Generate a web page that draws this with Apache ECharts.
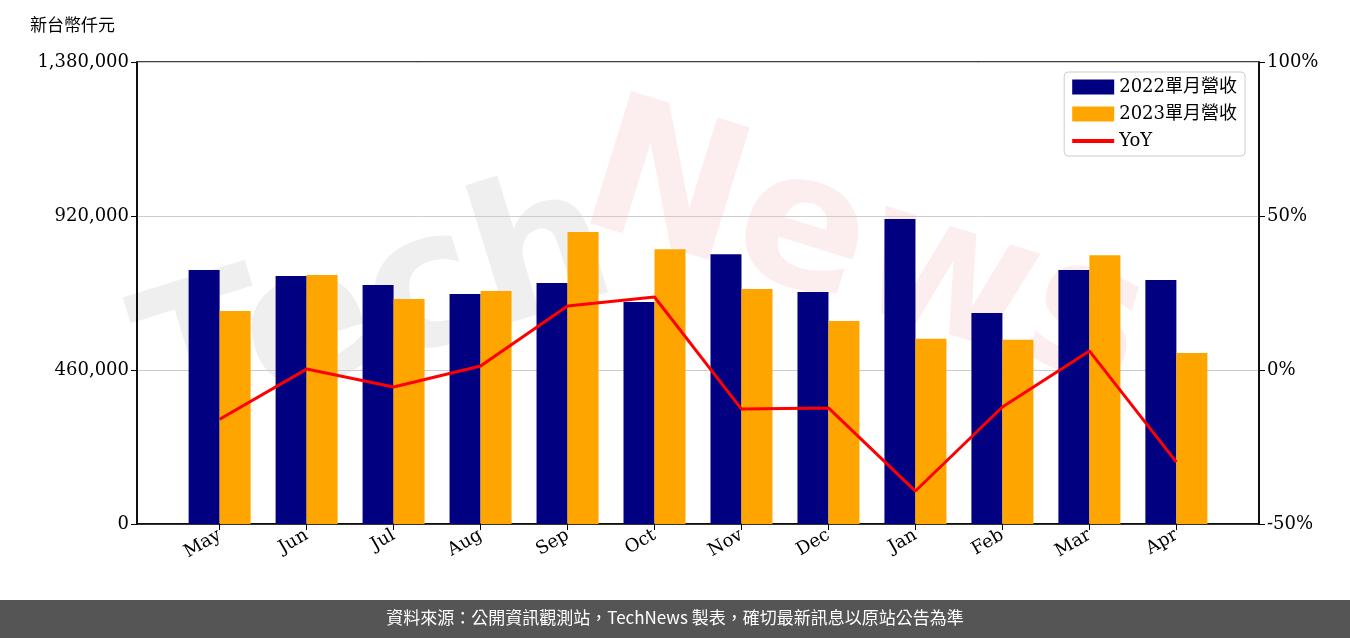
<!DOCTYPE html><html><head><meta charset="utf-8"><script src="https://cdn.jsdelivr.net/npm/echarts@6/dist/echarts.min.js"></script>
<style>body{margin:0}#c{width:1350px;height:638px}</style></head><body><div id="c"></div><script>
const months=['May','Jun','Jul','Aug','Sep','Oct','Nov','Dec','Jan','Feb','Mar','Apr'];
const rev2022=[758700,741000,714000,687000,720000,663000,806000,693000,911000,630000,759000,729000];
const rev2023=[636000,744000,672000,696000,872000,821000,702000,606000,553000,550000,803000,511000];
const yoy=[-16,0.3,-5.5,1.3,20.8,23.7,-12.7,-12.3,-39.3,-12,6.2,-29.9];
const f='DejaVu Serif';
const idx=months.map((m,i)=>i);
const ch=echarts.init(document.getElementById('c'));
ch.setOption({animation:false,
graphic:[
{type:'text',left:120,top:150,rotation:0.3,style:{text:'Tech',font:'bold 190px DejaVu Sans',fill:'rgba(190,190,190,0.25)'},z:-1},
{type:'text',left:560,top:80,rotation:-0.3,style:{text:'News',font:'bold 190px DejaVu Sans',fill:'rgba(230,120,120,0.13)'},z:-1},
{type:'rect',left:0,top:600,shape:{width:1350,height:38},style:{fill:'#555'}},
{type:'text',left:'center',top:609,style:{text:'資料來源：公開資訊觀測站，TechNews 製表，確切最新訊息以原站公告為準',font:'17px "Noto Sans CJK TC"',fill:'#fff'}},
{type:'text',left:30,top:16,style:{text:'新台幣仟元',font:'17px "Noto Sans CJK TC"',fill:'#000'}}],
grid:{left:137,right:91,top:62,bottom:114,show:true,borderColor:'#000',borderWidth:1.5},
legend:{right:105,top:72,orient:'vertical',itemGap:9,itemWidth:42,itemHeight:15,borderColor:'#ccc',borderWidth:1,borderRadius:4,padding:[6,8],
 textStyle:{fontFamily:'DejaVu Serif, Noto Sans CJK TC',fontSize:18,color:'#000'},
 data:[{name:'2022單月營收',icon:'rect'},{name:'2023單月營收',icon:'rect'},{name:'YoY',icon:'path://M0,0H10V1H0Z'}]},
xAxis:{type:'value',min:-0.95,max:11.95,splitLine:{show:false},axisLine:{onZero:false,lineStyle:{color:'#000',width:1.5}},
 axisTick:{show:true,length:6,lineStyle:{color:'#000'},customValues:idx},
 axisLabel:{rotate:30,fontFamily:f,fontSize:18,color:'#000',margin:10,customValues:idx,formatter:v=>months[Math.round(v)]}},
yAxis:[{type:'value',min:0,max:1380000,interval:460000,axisLine:{show:true,onZero:false,lineStyle:{color:'#000',width:1.5}},axisTick:{show:true,length:6},
 splitLine:{lineStyle:{color:'#ccc'}},axisLabel:{fontFamily:f,fontSize:18,color:'#000',formatter:v=>v.toLocaleString('en-US')}},
 {type:'value',min:-50,max:100,interval:50,axisLine:{show:true,onZero:false,lineStyle:{color:'#000',width:1.5}},axisTick:{show:true,length:6},splitLine:{show:false},
 axisLabel:{fontFamily:f,fontSize:18,color:'#000',formatter:'{value}%'}}],
series:[{name:'2022單月營收',type:'bar',data:rev2022.map((v,i)=>[i,v]),itemStyle:{color:'#000080'},barWidth:31,barGap:'0%'},
{name:'2023單月營收',type:'bar',data:rev2023.map((v,i)=>[i,v]),itemStyle:{color:'#FFA500'},barWidth:31,barGap:'0%'},
{name:'YoY',type:'line',yAxisIndex:1,data:yoy.map((v,i)=>[i,v]),symbol:'none',lineStyle:{color:'#FF0000',width:3},itemStyle:{color:'#FF0000'}}]});
</script></body></html>
